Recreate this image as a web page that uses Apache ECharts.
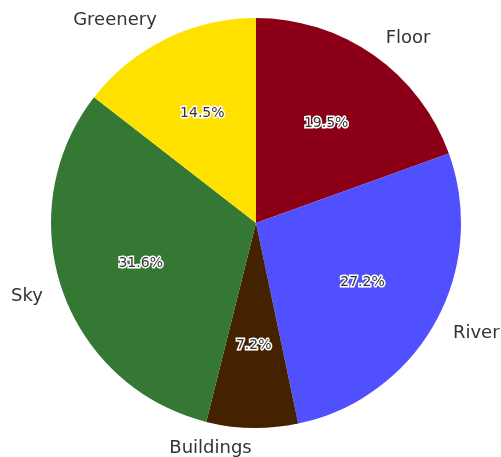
<!DOCTYPE html>
<html>
<head>
<meta charset="utf-8">
<script src="https://cdn.jsdelivr.net/npm/echarts@6/dist/echarts.min.js"></script>
<style>
  html, body { margin: 0; padding: 0; background: #fff; }
  #chart { width: 501px; height: 457px; }
</style>
</head>
<body>
<div id="chart"></div>
<script>
// slice data, clockwise from the top
const categories = ['Floor', 'River', 'Buildings', 'Sky', 'Greenery']
const shares = [19.5, 27.2, 7.2, 31.6, 14.5]
const colors = ['#8b0016', '#5050ff', '#442200', '#347833', '#ffe100']

const chart = echarts.init(document.getElementById('chart'))
const R = 205
const center = [256, 223]

const sliceData = categories.map((name, i) => ({
  name: name,
  value: shares[i],
  itemStyle: { color: colors[i] }
}))

const option = {
  animation: false,
  series: [
    {
      // the pie itself with the outer names
      type: 'pie',
      center: center,
      radius: R,
      startAngle: 90,
      clockwise: true,
      avoidLabelOverlap: false,
      silent: true,
      data: sliceData,
      label: {
        show: true,
        position: 'outside',
        formatter: '{b}',
        fontFamily: 'DejaVu Sans',
        fontSize: 18,
        color: '#333',
        padding: [3, 0, 0, 0],
        distanceToLabelLine: 0
      },
      labelLine: {
        show: false,
        length: R * 0.1,
        length2: 0
      }
    },
    {
      // transparent twin, only to place the percent texts near 0.6 R
      type: 'pie',
      center: center,
      radius: 238,
      startAngle: 90,
      clockwise: true,
      silent: true,
      data: categories.map((name, i) => ({
        name: name,
        value: shares[i],
        itemStyle: { color: 'rgba(0,0,0,0)' }
      })),
      label: {
        show: true,
        position: 'inside',
        formatter: p => p.value.toFixed(1) + '%',
        fontFamily: 'DejaVu Sans',
        fontSize: 14,
        color: '#333',
        textBorderColor: '#fff',
        textBorderWidth: 3
      },
      labelLine: { show: false }
    }
  ]
}
chart.setOption(option)
</script>
</body>
</html>
